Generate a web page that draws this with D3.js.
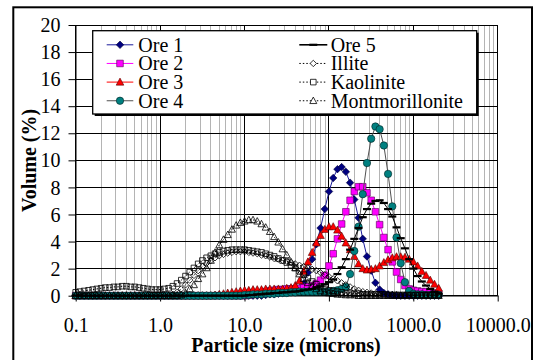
<!DOCTYPE html>
<html>
<head>
<meta charset="utf-8">
<script src="https://cdn.jsdelivr.net/npm/d3@7"></script>
<style>
  html, body { margin: 0; padding: 0; background: #fff; }
  svg { display: block; }
  text { font-family: "Liberation Serif", "Times New Roman", serif; fill: #000; }
</style>
</head>
<body>
<svg id="chart" width="538" height="360"></svg>
<script>
// Particle size classes (microns), log-spaced
const sizes = [
  0.100, 0.112, 0.126, 0.142, 0.159, 0.178, 0.200, 0.224, 0.252, 0.283,
  0.317, 0.356, 0.399, 0.448, 0.502, 0.564, 0.632, 0.710, 0.796, 0.893,
  1.002, 1.125, 1.262, 1.416, 1.589, 1.783, 2.000, 2.244, 2.518, 2.825,
  3.170, 3.557, 3.991, 4.477, 5.024, 5.637, 6.325, 7.096, 7.962, 8.934,
  10.024, 11.247, 12.619, 14.159, 15.887, 17.825, 20.000, 22.440, 25.179, 28.251,
  31.698, 35.566, 39.905, 44.774, 50.238, 56.368, 63.246, 70.963, 79.621, 89.337,
  100.237, 112.468, 126.191, 141.589, 158.866, 178.250, 200.000, 224.404, 251.785, 282.508,
  316.979, 355.656, 399.052, 447.744, 502.377, 563.677, 632.456, 709.627, 796.214, 893.367,
  1002.374, 1124.683, 1261.915, 1415.892, 1588.656, 1782.502, 2000.000
];

// Volume (%) per size class
const ore1 = [
  0,0,0,0,0,0,0,0,0,0,
  0,0,0,0,0,0,0,0,0,0,
  0,0,0,0,0,0,0,0,0,0,
  0,0,0,0,0,0,0,0,0,0,
  0, 0, 0, 0, 0, 0.05, 0.1, 0.1, 0.15, 0.2,
  0.25, 0.3, 0.4, 0.55, 0.9, 1.7, 2.7, 3.8, 5.0, 6.4,
  7.7, 8.7, 9.35, 9.5, 9.15, 8.35, 7.1, 5.75, 4.2, 2.9,
  1.85, 0.95, 0.45, 0.2, 0.1, 0.05, 0, 0, 0, 0,
  0, 0, 0, 0, 0, 0, 0
];
const ore2 = [
  0,0,0,0,0,0,0,0,0,0,
  0,0,0,0,0,0,0,0,0,0,
  0,0,0,0,0,0,0,0,0,0,
  0,0,0,0,0,0,0,0,0,0,
  0, 0.05, 0.1, 0.15, 0.2, 0.3, 0.35, 0.4, 0.45, 0.45,
  0.5, 0.5, 0.5, 0.55, 0.6, 0.65, 0.75, 0.9, 1.15, 1.5,
  2.2, 3.1, 4.2, 5.3, 6.2, 7.05, 7.7, 8.05, 8.05, 7.6,
  7.05, 6.2, 5.25, 4.3, 3.4, 2.5, 1.75, 1.2, 0.75, 0.5,
  0.4, 0.35, 0.3, 0.3, 0.25, 0.2, 0.15
];
const ore3 = [
  0,0,0,0,0,0,0,0,0,0,
  0,0,0,0,0,0,0,0,0,0,
  0,0,0,0,0,0,0,0,0,0,
  0, 0, 0, 0.05, 0.1, 0.15, 0.2, 0.25, 0.3, 0.35,
  0.4, 0.4, 0.45, 0.45, 0.45, 0.5, 0.5, 0.5, 0.5, 0.5,
  0.55, 0.6, 0.75, 1.1, 1.8, 2.5, 3.2, 3.9, 4.45, 4.9,
  5.1, 5.1, 4.85, 4.4, 3.9, 3.4, 2.9, 2.35, 2.0, 1.9,
  1.95, 2.0, 2.2, 2.45, 2.65, 2.8, 2.88, 2.88, 2.84, 2.7,
  2.5, 2.2, 1.8, 1.5, 1.15, 0.85, 0.55
];
const ore4 = [
  0,0,0,0,0,0,0,0,0,0,
  0,0,0,0,0,0,0,0,0,0,
  0,0,0,0,0,0,0,0,0,0,
  0,0,0,0,0,0,0,0,0,0,
  0.05, 0.05, 0.1, 0.1, 0.1, 0.15, 0.15, 0.15, 0.2, 0.2,
  0.2, 0.25, 0.25, 0.3, 0.3, 0.3, 0.3, 0.3, 0.3, 0.3,
  0.3, 0.35, 0.4, 0.5, 0.65, 1.6, 3.3, 5.1, 7.5, 9.8,
  11.6, 12.5, 12.3, 11.1, 9.0, 6.6, 4.3, 2.4, 1.0, 0.35,
  0.15, 0.1, 0.1, 0.05, 0.05, 0.05, 0.05
];
const ore5 = [
  0,0,0,0,0,0,0,0,0,0,
  0,0,0,0,0,0,0,0,0,0,
  0,0,0,0,0,0,0,0,0,0,
  0,0,0,0,0,0,0,0,0,0,
  0, 0.05, 0.05, 0.1, 0.1, 0.15, 0.15, 0.2, 0.2, 0.25,
  0.25, 0.3, 0.3, 0.35, 0.4, 0.45, 0.5, 0.6, 0.7, 0.85,
  1.0, 1.2, 1.6, 2.1, 2.7, 3.4, 4.2, 5.0, 5.8, 6.4,
  6.8, 7.0, 7.05, 6.85, 6.4, 5.85, 5.05, 4.25, 3.5, 2.7,
  2.0, 1.45, 1.05, 0.75, 0.5, 0.3, 0.15
];
const illite = [
  0,0,0,0,0,0,0,0,0,0,
  0,0,0,0,0,0,0,0,0,0,
  0, 0, 0, 0.1, 0.25, 0.5, 0.8, 1.15, 1.5, 1.85,
  2.15, 2.4, 2.6, 2.8, 2.95, 3.05, 3.15, 3.2, 3.25, 3.25,
  3.25, 3.2, 3.15, 3.1, 3.0, 2.95, 2.85, 2.75, 2.7, 2.6,
  2.55, 2.45, 2.35, 2.25, 2.15, 2.05, 1.95, 1.85, 1.7, 1.55,
  1.4, 1.25, 1.1, 0.95, 0.8, 0.65, 0.5, 0.4, 0.3, 0.25,
  0.2, 0.15, 0.1, 0.1, 0.1, 0.1, 0.1, 0.05, 0.05, 0.05,
  0.05, 0.05, 0.05, 0.05, 0.05, 0.05, 0.05
];
const kaolinite = [
  0.25, 0.3, 0.35, 0.4, 0.45, 0.5, 0.55, 0.6, 0.6, 0.65,
  0.65, 0.7, 0.7, 0.65, 0.65, 0.6, 0.55, 0.5, 0.45, 0.45,
  0.45, 0.5, 0.55, 0.7, 0.9, 1.15, 1.45, 1.75, 2.05, 2.35,
  2.6, 2.8, 2.95, 3.1, 3.2, 3.3, 3.35, 3.4, 3.4, 3.4,
  3.4, 3.35, 3.3, 3.25, 3.2, 3.1, 3.0, 2.9, 2.75, 2.6,
  2.45, 2.25, 2.05, 1.8, 1.55, 1.3, 1.05, 0.85, 0.65, 0.5,
  0.4, 0.35, 0.3, 0.25, 0.2, 0.2, 0.15, 0.15, 0.1, 0.1,
  0.1, 0.1, 0.1, 0.1, 0.05, 0.05, 0.05, 0.05, 0.05, 0.05,
  0.05, 0.05, 0.05, 0.05, 0.05, 0.05, 0.05
];
const montmorillonite = [
  0,0,0,0,0,0,0,0,0,0,
  0,0,0,0,0,0,0,0,0,0,
  0, 0, 0, 0, 0, 0.05, 0.2, 0.5, 0.8, 1.25,
  1.6, 2.05, 2.6, 3.2, 3.75, 4.15, 4.5, 4.9, 5.2, 5.4,
  5.5, 5.6, 5.6, 5.5, 5.3, 5.05, 4.73, 4.35, 3.95, 3.45,
  3.0, 2.5, 2.05, 1.6, 1.25, 0.95, 0.7, 0.5, 0.35, 0.25,
  0.2, 0.15, 0.1, 0.1, 0.05, 0.05, 0.05, 0, 0, 0,
  0,0,0,0,0,0,0,0,0,0,
  0,0,0,0,0,0,0
];

const seriesNames = ["Ore 1", "Ore 2", "Ore 3", "Ore 4", "Ore 5", "Illite", "Kaolinite", "Montmorillonite"];
const xTickValues = [0.1, 1, 10, 100, 1000, 10000];
const xTickLabels = ["0.1", "1.0", "10.0", "100.0", "1000.0", "10000.0"];
const yTickValues = [0, 2, 4, 6, 8, 10, 12, 14, 16, 18, 20];
const xTitle = "Particle size (microns)";
const yTitle = "Volume (%)";

// ---- appearance of each series ----
const styles = [
  { values: ore1, shape: "diamond", size: 7.5, fill: "#000080", stroke: "#000030", line: "#1a1a9a", dash: null },
  { values: ore2, shape: "square", size: 6.6, fill: "#ff00ff", stroke: "#500050", line: "#ff00ff", dash: null },
  { values: ore3, shape: "triangle", size: 7.6, fill: "#ff0000", stroke: "#500000", line: "#ff0000", dash: null },
  { values: ore4, shape: "circle", size: 7.4, fill: "#008080", stroke: "#002020", line: "#505050", dash: null },
  { values: ore5, shape: "dash", size: 8, fill: "#000", stroke: "none", line: "#000", dash: null },
  { values: illite, shape: "diamond", size: 6.4, fill: "none", stroke: "#000", line: "#000", dash: "1.5,2" },
  { values: kaolinite, shape: "square", size: 5.6, fill: "none", stroke: "#000", line: "#000", dash: "1.5,2" },
  { values: montmorillonite, shape: "triangle", size: 7, fill: "none", stroke: "#000", line: "#000", dash: "1.5,2" }
];

function shapePath(shape, s) {
  const h = s / 2;
  switch (shape) {
    case "diamond": return `M0,${-h}L${h},0L0,${h}L${-h},0Z`;
    case "square": return `M${-h},${-h}H${h}V${h}H${-h}Z`;
    case "triangle": return `M0,${-h * 1.05}L${h},${h * 0.8}L${-h},${h * 0.8}Z`;
    case "circle": return d3.symbol(d3.symbolCircle, Math.PI * h * h)();
    case "dash": return `M${-h},-1.1H${h}V1.1H${-h}Z`;
  }
}

const svg = d3.select("#chart");
const plot = { left: 75.7, right: 497.7, top: 25, bottom: 295.7 };
const x = d3.scaleLog().domain([0.1, 10000]).range([plot.left, plot.right]);
const y = d3.scaleLinear().domain([0, 20]).range([plot.bottom, plot.top]);
const crisp = v => Math.round(v - 0.5) + 0.5;

// outer chart frame
svg.append("rect")
  .attr("x", 13.3).attr("y", 7.3).attr("width", 518.7).attr("height", 360)
  .attr("fill", "#fff").attr("stroke", "#000").attr("stroke-width", 2);

// grid
const grid = svg.append("g");
const decades = [0.1, 1, 10, 100, 1000];
const minorTicks = [];
decades.forEach(d => { for (let k = 2; k <= 9; k++) minorTicks.push(d * k); });
grid.selectAll("line.minor").data(minorTicks).join("line")
  .attr("x1", d => crisp(x(d))).attr("x2", d => crisp(x(d)))
  .attr("y1", plot.top).attr("y2", plot.bottom)
  .attr("stroke", "#b4b4b4").attr("stroke-width", 1);
grid.selectAll("line.majx").data(xTickValues).join("line")
  .attr("x1", d => crisp(x(d))).attr("x2", d => crisp(x(d)))
  .attr("y1", plot.top).attr("y2", plot.bottom)
  .attr("stroke", "#000").attr("stroke-width", 1);
grid.selectAll("line.majy").data(yTickValues).join("line")
  .attr("x1", plot.left).attr("x2", plot.right)
  .attr("y1", d => crisp(y(d))).attr("y2", d => crisp(y(d)))
  .attr("stroke", "#000").attr("stroke-width", 1);

// axes
const yAxis = d3.axisLeft(y).tickValues(yTickValues).tickSize(7).tickSizeOuter(0).tickPadding(8)
  .tickFormat(d3.format("d"));
const gy = svg.append("g").attr("transform", `translate(${crisp(plot.left)},0)`).call(yAxis);
const xAxis = d3.axisBottom(x).tickValues(xTickValues).tickSize(6).tickSizeOuter(0).tickPadding(16)
  .tickFormat((d, i) => xTickLabels[i]);
const gx = svg.append("g").attr("transform", `translate(0,${crisp(plot.bottom)})`).call(xAxis);
[gx, gy].forEach(g => {
  g.selectAll("path.domain").attr("stroke", "#000").attr("stroke-width", 1);
  g.selectAll(".tick line").attr("stroke", "#000");
  g.selectAll(".tick text").attr("font-family", "Liberation Serif").attr("font-size", 20).attr("fill", "#000");
});
gy.selectAll(".tick text").attr("dy", "0.33em");

// axis titles
svg.append("text").attr("x", 286).attr("y", 351.5).attr("text-anchor", "middle")
  .attr("font-size", 20).attr("font-weight", "bold").text(xTitle);
svg.append("text").attr("transform", "translate(36,160.4) rotate(-90)").attr("text-anchor", "middle")
  .attr("font-size", 20).attr("font-weight", "bold").text(yTitle);

// series
const line = d3.line().x(d => x(d[0])).y(d => y(d[1]));
const seriesG = svg.append("g");
styles.forEach((s, si) => {
  const pts = sizes.map((sz, i) => [sz, s.values[i]]);
  const g = seriesG.append("g").attr("class", "series").attr("data-name", seriesNames[si]);
  g.append("path").attr("d", line(pts)).attr("fill", "none")
    .attr("stroke", s.line).attr("stroke-width", 1)
    .attr("stroke-dasharray", s.dash);
  g.selectAll("path.mk").data(pts).join("path").attr("class", "mk")
    .attr("transform", d => `translate(${x(d[0])},${y(d[1])})`)
    .attr("d", shapePath(s.shape, s.size))
    .attr("fill", s.fill).attr("stroke", s.stroke).attr("stroke-width", s.fill === "none" ? 0.8 : 0.6);
});

// legend
const lg = svg.append("g");
const box = { x: 92.7, y: 30.7, w: 384, h: 83.3 };
lg.append("rect").attr("x", box.x + 2).attr("y", box.y + 2).attr("width", box.w).attr("height", box.h).attr("fill", "#000");
lg.append("rect").attr("x", box.x).attr("y", box.y).attr("width", box.w).attr("height", box.h)
  .attr("fill", "#fff").attr("stroke", "#000").attr("stroke-width", 1.3);
const cols = [{ x1: 106.7, x2: 133.3, tx: 138.3 }, { x1: 299.3, x2: 327.3, tx: 330.7 }];
seriesNames.forEach((name, i) => {
  const c = cols[Math.floor(i / 4)];
  const ry = 44.8 + (i % 4) * 18.65;
  const s = styles[i];
  const e = lg.append("g");
  e.append("line").attr("x1", c.x1).attr("x2", c.x2).attr("y1", ry).attr("y2", ry)
    .attr("stroke", s.line).attr("stroke-width", i === 4 ? 1.6 : 1).attr("stroke-dasharray", s.dash);
  e.append("path").attr("transform", `translate(${(c.x1 + c.x2) / 2},${ry})`)
    .attr("d", shapePath(s.shape, s.size))
    .attr("fill", s.fill === "none" ? "#fff" : s.fill).attr("stroke", s.stroke)
    .attr("stroke-width", s.fill === "none" ? 0.8 : 0.6);
  e.append("text").attr("x", c.tx).attr("y", ry + 6.8).attr("font-size", 20).text(name);
});
</script>
</body>
</html>
